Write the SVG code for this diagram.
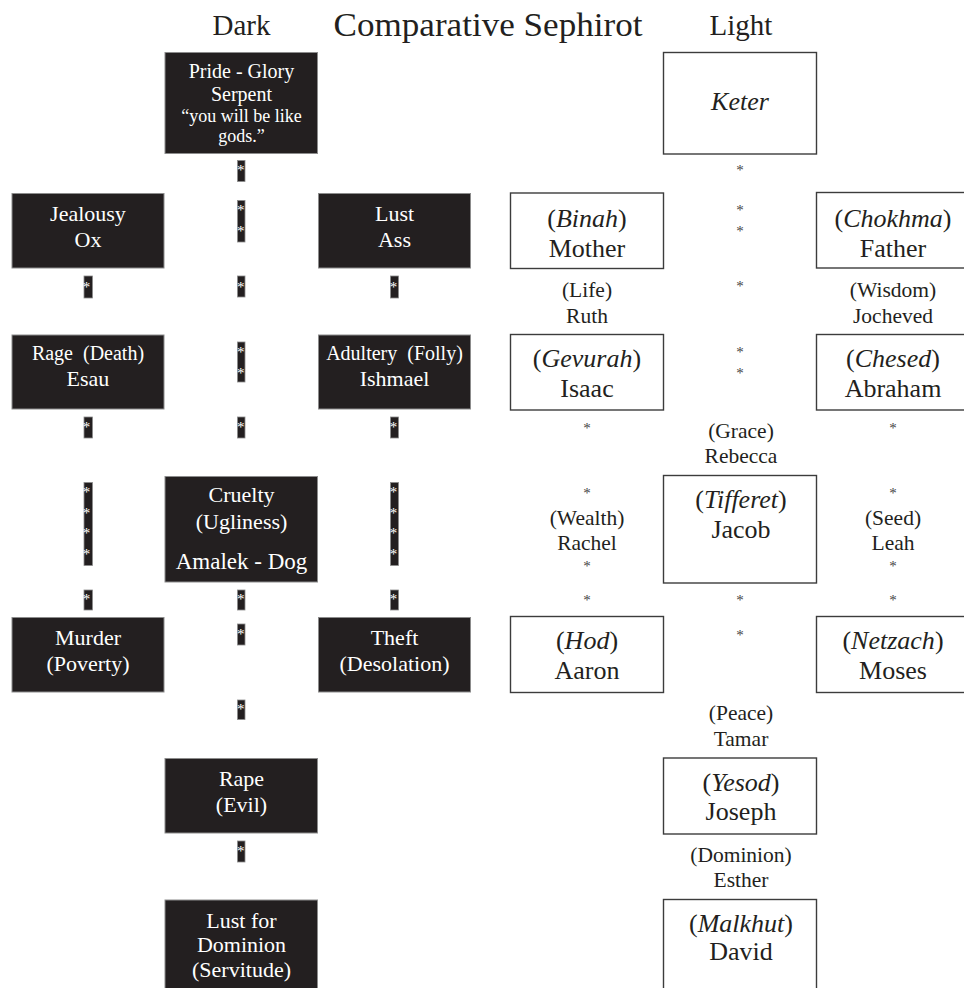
<svg xmlns="http://www.w3.org/2000/svg" width="964" height="988" viewBox="0 0 964 988">
<style>
text{font-family:"Liberation Serif","Times New Roman",serif;text-anchor:middle}
.db{fill:#231f20;stroke:#8c8c8c;stroke-width:1}
.lb{fill:#fff;stroke:#3c3c3c;stroke-width:1.4}
.dt{fill:#fff;font-size:22px}
.ds{fill:#fff;font-size:20px}
.dq{fill:#fff;font-size:18px}
.lt{fill:#231f20;font-size:26px}
.ll{fill:#231f20;font-size:21.5px}
.hd{fill:#231f20;font-size:29px}
.mk{fill:#231f20;stroke:#8c8c8c;stroke-width:0.8}
.ma{fill:#fff;font-size:15px}
.la{fill:#444;font-size:15px}
i,.it{font-style:italic}
</style>
<rect width="964" height="988" fill="#fff"/>
<g id="headers">
<text class="hd" x="241.5" y="34.5">Dark</text>
<text class="hd" x="488" y="36" style="font-size:34px" textLength="309" lengthAdjust="spacingAndGlyphs">Comparative Sephirot</text>
<text class="hd" x="741" y="35">Light</text>
</g>
<g id="connectors">
<g id="dark-markers">
<rect class="mk" x="237.5" y="160.5" width="7.5" height="21"/>
<rect class="mk" x="237.5" y="200.5" width="7.5" height="41.5"/>
<rect class="mk" x="237.5" y="276" width="7.5" height="21"/>
<rect class="mk" x="237.5" y="342" width="7.5" height="40"/>
<rect class="mk" x="237.5" y="417" width="7.5" height="21"/>
<rect class="mk" x="237.5" y="590" width="7.5" height="20"/>
<rect class="mk" x="237.5" y="624" width="7.5" height="21"/>
<rect class="mk" x="237.5" y="700" width="7.5" height="19.5"/>
<rect class="mk" x="237.5" y="841" width="7.5" height="21"/>
<rect class="mk" x="84" y="276" width="8.5" height="22"/>
<rect class="mk" x="84" y="417" width="8.5" height="21"/>
<rect class="mk" x="84" y="482.5" width="8.5" height="83"/>
<rect class="mk" x="84" y="590" width="8.5" height="20"/>
<rect class="mk" x="390.5" y="276" width="8" height="22"/>
<rect class="mk" x="390.5" y="417" width="8" height="21"/>
<rect class="mk" x="390.5" y="482.5" width="8" height="83"/>
<rect class="mk" x="390.5" y="590" width="8" height="20"/>
<text class="ma" x="240.7" y="174.7">*</text>
<text class="ma" x="240.7" y="215.2">*</text>
<text class="ma" x="240.7" y="236.2">*</text>
<text class="ma" x="240.7" y="291.9">*</text>
<text class="ma" x="240.7" y="357.2">*</text>
<text class="ma" x="240.7" y="377.9">*</text>
<text class="ma" x="240.7" y="432.2">*</text>
<text class="ma" x="240.7" y="604.2">*</text>
<text class="ma" x="240.7" y="639.2">*</text>
<text class="ma" x="240.7" y="714.2">*</text>
<text class="ma" x="240.7" y="856.2">*</text>
<text class="ma" x="86.5" y="291.9">*</text>
<text class="ma" x="86.5" y="432.2">*</text>
<text class="ma" x="86.5" y="497.2">*</text>
<text class="ma" x="86.5" y="517.7">*</text>
<text class="ma" x="86.5" y="538.2">*</text>
<text class="ma" x="86.5" y="559.2">*</text>
<text class="ma" x="86.5" y="604.2">*</text>
<text class="ma" x="393.5" y="291.9">*</text>
<text class="ma" x="393.5" y="432.2">*</text>
<text class="ma" x="393.5" y="497.2">*</text>
<text class="ma" x="393.5" y="517.7">*</text>
<text class="ma" x="393.5" y="538.2">*</text>
<text class="ma" x="393.5" y="559.2">*</text>
<text class="ma" x="393.5" y="604.2">*</text>
</g>
<g id="light-markers">
<text class="la" x="740" y="174.7">*</text>
<text class="la" x="740" y="215.2">*</text>
<text class="la" x="740" y="236.2">*</text>
<text class="la" x="740" y="291.2">*</text>
<text class="la" x="740" y="357.2">*</text>
<text class="la" x="740" y="377.9">*</text>
<text class="la" x="740" y="604.9">*</text>
<text class="la" x="740" y="639.5">*</text>
<text class="la" x="587" y="433.2">*</text>
<text class="la" x="587" y="498.2">*</text>
<text class="la" x="587" y="570.5">*</text>
<text class="la" x="587" y="604.9">*</text>
<text class="la" x="893" y="433.2">*</text>
<text class="la" x="893" y="498.2">*</text>
<text class="la" x="893" y="570.5">*</text>
<text class="la" x="893" y="604.9">*</text>
</g>
<g id="light-labels">
<text class="ll" x="587" y="296.5">(Life)</text>
<text class="ll" x="587" y="322.7">Ruth</text>
<text class="ll" x="893" y="296.5">(Wisdom)</text>
<text class="ll" x="893" y="322.7">Jocheved</text>
<text class="ll" x="741" y="438.3">(Grace)</text>
<text class="ll" x="741" y="463.3">Rebecca</text>
<text class="ll" x="587" y="525">(Wealth)</text>
<text class="ll" x="587" y="550">Rachel</text>
<text class="ll" x="893" y="525">(Seed)</text>
<text class="ll" x="893" y="550">Leah</text>
<text class="ll" x="741" y="720">(Peace)</text>
<text class="ll" x="741" y="745.7">Tamar</text>
<text class="ll" x="741" y="861.7">(Dominion)</text>
<text class="ll" x="741" y="886.7">Esther</text>
</g>
</g>
<g id="pride">
<rect class="db" x="165" y="52.5" width="152.5" height="101"/>
<text class="ds" x="241.5" y="77.5">Pride - Glory</text>
<text class="ds" x="241.5" y="100.8">Serpent</text>
<text class="dq" x="241.5" y="121.7">“you will be like</text>
<text class="dq" x="241.5" y="141.7">gods.”</text>
</g>
<g id="jealousy">
<rect class="db" x="12" y="193.5" width="152" height="74.5"/>
<text class="dt" x="88" y="221">Jealousy</text>
<text class="dt" x="88" y="247.3">Ox</text>
</g>
<g id="lust">
<rect class="db" x="318.5" y="193.5" width="152" height="74.5"/>
<text class="dt" x="394.5" y="221">Lust</text>
<text class="dt" x="394.5" y="247.3">Ass</text>
</g>
<g id="rage">
<rect class="db" x="12" y="335" width="152" height="74"/>
<text class="ds" x="88" y="360" xml:space="preserve">Rage  (Death)</text>
<text class="dt" x="88" y="386">Esau</text>
</g>
<g id="adultery">
<rect class="db" x="318.5" y="335" width="152" height="74"/>
<text class="ds" x="394.5" y="360" xml:space="preserve">Adultery  (Folly)</text>
<text class="dt" x="394.5" y="386">Ishmael</text>
</g>
<g id="cruelty">
<rect class="db" x="165" y="476.5" width="152.5" height="105.5"/>
<text class="dt" x="241.5" y="502.3">Cruelty</text>
<text class="dt" x="241.5" y="529.3">(Ugliness)</text>
<text class="dt" x="241.5" y="569.3" style="font-size:23px">Amalek - Dog</text>
</g>
<g id="murder">
<rect class="db" x="12" y="617.5" width="152" height="74.5"/>
<text class="dt" x="88" y="645">Murder</text>
<text class="dt" x="88" y="670.7">(Poverty)</text>
</g>
<g id="theft">
<rect class="db" x="318.5" y="617.5" width="152" height="74.5"/>
<text class="dt" x="394.5" y="645">Theft</text>
<text class="dt" x="394.5" y="670.7">(Desolation)</text>
</g>
<g id="rape">
<rect class="db" x="165" y="758.5" width="152.5" height="74.5"/>
<text class="dt" x="241.5" y="786">Rape</text>
<text class="dt" x="241.5" y="812.3">(Evil)</text>
</g>
<g id="lust-for-dominion">
<rect class="db" x="165" y="900" width="152.5" height="92"/>
<text class="dt" x="241.5" y="927.7">Lust for</text>
<text class="dt" x="241.5" y="952.3">Dominion</text>
<text class="dt" x="241.5" y="976.7">(Servitude)</text>
</g>
<g id="keter">
<rect class="lb" x="663.5" y="52.5" width="153" height="101.5"/>
<text class="lt it" x="740" y="110">Keter</text>
</g>
<g id="binah">
<rect class="lb" x="510.5" y="193" width="153" height="75.5"/>
<text class="lt" x="587" y="226.7">(<tspan class="it">Binah</tspan>)</text>
<text class="lt" x="587" y="256.7">Mother</text>
</g>
<g id="chokhma">
<rect class="lb" x="816.5" y="192.5" width="153" height="75.5"/>
<text class="lt" x="893" y="226.7">(<tspan class="it">Chokhma</tspan>)</text>
<text class="lt" x="893" y="256.7">Father</text>
</g>
<g id="gevurah">
<rect class="lb" x="510.5" y="334.5" width="153" height="75.5"/>
<text class="lt" x="587" y="366.7">(<tspan class="it">Gevurah</tspan>)</text>
<text class="lt" x="587" y="396.7">Isaac</text>
</g>
<g id="chesed">
<rect class="lb" x="816.5" y="334.5" width="153" height="75.5"/>
<text class="lt" x="893" y="366.7">(<tspan class="it">Chesed</tspan>)</text>
<text class="lt" x="893" y="396.7">Abraham</text>
</g>
<g id="tifferet">
<rect class="lb" x="663.5" y="475.5" width="153" height="107.5"/>
<text class="lt" x="741" y="508.3">(<tspan class="it">Tifferet</tspan>)</text>
<text class="lt" x="741" y="537.7">Jacob</text>
</g>
<g id="hod">
<rect class="lb" x="510.5" y="616.5" width="153" height="76"/>
<text class="lt" x="587" y="649.3">(<tspan class="it">Hod</tspan>)</text>
<text class="lt" x="587" y="679.3">Aaron</text>
</g>
<g id="netzach">
<rect class="lb" x="816.5" y="616.5" width="153" height="76"/>
<text class="lt" x="893" y="649.3">(<tspan class="it">Netzach</tspan>)</text>
<text class="lt" x="893" y="679.3">Moses</text>
</g>
<g id="yesod">
<rect class="lb" x="663.5" y="758" width="153" height="76"/>
<text class="lt" x="741" y="790.7">(<tspan class="it">Yesod</tspan>)</text>
<text class="lt" x="741" y="820">Joseph</text>
</g>
<g id="malkhut">
<rect class="lb" x="663.5" y="899.5" width="153" height="95"/>
<text class="lt" x="741" y="931.7">(<tspan class="it">Malkhut</tspan>)</text>
<text class="lt" x="741" y="960">David</text>
</g>
</svg>
